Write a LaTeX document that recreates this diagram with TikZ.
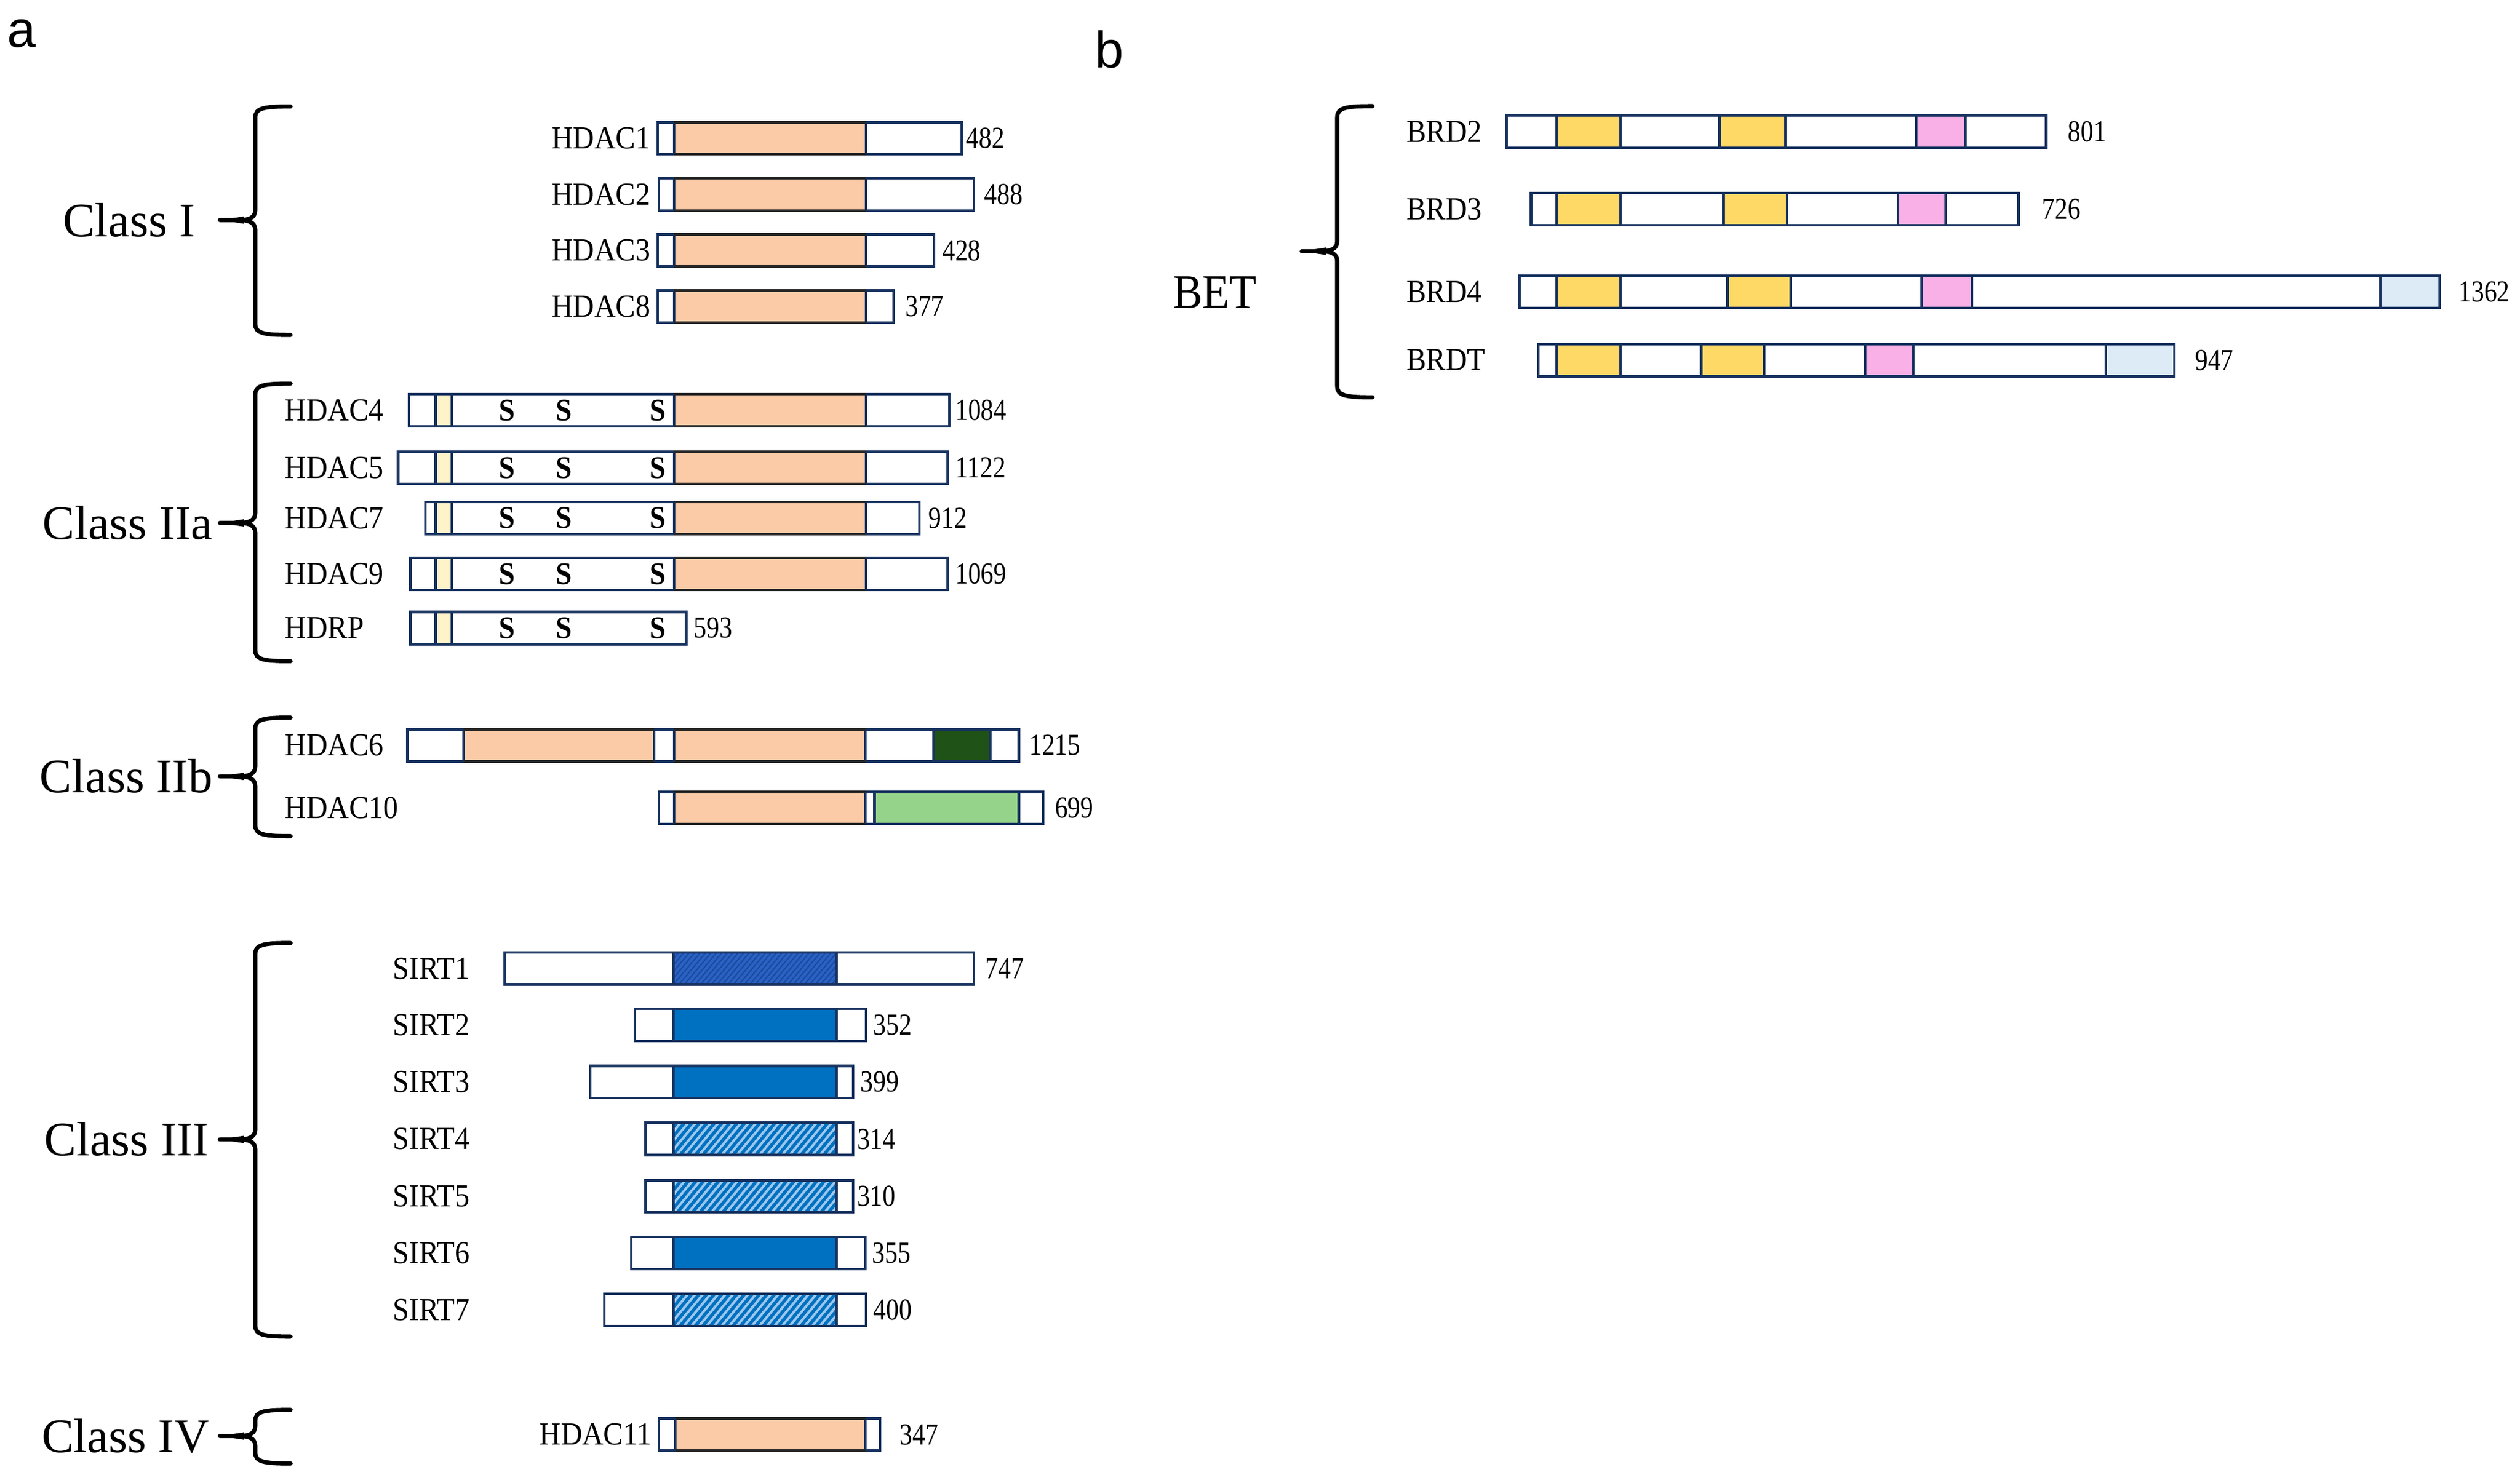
\documentclass[tikz,border=0pt]{standalone}
\usepackage{fontspec}
\setmainfont{Liberation Serif}
\newfontfamily\lblfont[FakeStretch=0.92]{Liberation Serif}
\newfontfamily\numfont[FakeStretch=0.84]{Liberation Serif}
\newfontfamily\panelfont{Liberation Sans}
\usetikzlibrary{patterns.meta}
\definecolor{navy}{HTML}{17325F}
\definecolor{orng}{HTML}{FBCBA7}
\definecolor{odark}{HTML}{262626}
\definecolor{pyel}{HTML}{FFF3C9}
\definecolor{dgreen}{HTML}{1E5217}
\definecolor{lgreen}{HTML}{96D38A}
\definecolor{byel}{HTML}{FFD966}
\definecolor{bpink}{HTML}{F9B0E6}
\definecolor{lblue}{HTML}{DDEBF7}
\definecolor{sblue}{HTML}{0070C0}
\definecolor{hlight}{HTML}{9DC8EE}
\definecolor{sonebase}{HTML}{2A62C4}
\definecolor{sonedark}{HTML}{1B4A9E}
\tikzset{
  outl/.style={draw=navy, line width=0.8pt},
  lbl/.style={font=\lblfont\fontsize{10}{12}\selectfont, inner sep=0pt},
  num/.style={font=\numfont\fontsize{9.5}{11}\selectfont, inner sep=0pt, anchor=west},
  cls/.style={font=\fontsize{15}{18}\selectfont, inner sep=0pt, anchor=east},
  brc/.style={line width=1.3pt, line cap=round, line join=round},
  sss/.style={font=\lblfont\bfseries\fontsize{9.8}{11}\selectfont, inner sep=0pt},
  solidb/.style={fill=sblue},
  hatcha/.style={preaction={fill=sblue}, pattern={Lines[angle=50,distance=1.8pt,line width=0.75pt]}, pattern color=hlight},
  hatchb/.style={preaction={fill=sonebase}, pattern={Lines[angle=50,distance=1.3pt,line width=0.4pt]}, pattern color=sonedark},
}
\newcommand\protbox[3]{\draw[outl,fill=white] (#2,{#1-10}) rectangle (#3,{#1+10});}
\newcommand\protseg[4]{\draw[outl,#4] (#2,{#1-10}) rectangle (#3,{#1+10});}
\newcommand\orseg[3]{\fill[orng] (#2,{#1-10}) rectangle (#3,{#1+10});
  \draw[outl] (#2,{#1-10}) -- (#2,{#1+10}) (#3,{#1-10}) -- (#3,{#1+10});
  \draw[line width=0.8pt, draw=odark] (#2,{#1-10}) -- (#3,{#1-10}) (#2,{#1+10}) -- (#3,{#1+10});}
\newcommand\bracemark[4]{%
  \draw[brc] ({#1+22},#2) .. controls ({#1+5},{#2}) and ({#1},{#2+1}) .. ({#1},{#2+7})
    -- ({#1},{#3-6}) .. controls ({#1},{#3-1.5}) and ({#1-4},{#3}) .. ({#1-10},{#3})
    -- ({#1-22},{#3}) -- ({#1-10},{#3})
    .. controls ({#1-4},{#3}) and ({#1},{#3+1.5}) .. ({#1},{#3+6})
    -- ({#1},{#4-7}) .. controls ({#1},{#4-1}) and ({#1+5},{#4}) .. ({#1+22},{#4});
  \fill ({#1-22},{#3}) -- ({#1-7},{#3-2.3}) -- ({#1-7},{#3+2.3}) -- cycle;}
\newcommand\sss[1]{%
  \node[sss] at (315.4,#1) {S}; \node[sss] at (351,#1) {S}; \node[sss] at (409.5,#1) {S};}
\begin{document}
\begin{tikzpicture}[x=0.5pt,y=-0.5pt]
\useasboundingbox (0,0) rectangle (1568,918.1);
% panel labels
\node[font=\panelfont\fontsize{16}{19}\selectfont, inner sep=0pt, anchor=base west] (pa) at (4.2,29.5) {a};
\node[font=\panelfont\fontsize{16}{19}\selectfont, inner sep=0pt, anchor=base west] (pb) at (681,42) {b};
% ---------------- Class I
\bracemark{158.8}{66.3}{137}{208.5}
\node[cls] (c1) at (122,137) {Class I};
\foreach \cy/\xa/\xb/\nx/\nm/\nam in {86.1/409.2/598.6/600.8/482/HDAC1, 121/410/606/612/488/HDAC2, 155.9/409.2/581.3/586/428/HDAC3, 190.9/409.2/556/563/377/HDAC8}{
  \protbox{\cy}{\xa}{\xb}
  \orseg{\cy}{419.5}{538.8}
  \node[lbl, anchor=east] (l\nam) at (405,\cy) {\nam};
  \node[num] (n\nam) at (\nx,\cy) {\nm};
}
% ---------------- Class IIa
\bracemark{158.8}{238.8}{325.5}{411.6}
\node[cls] (c2a) at (132.7,325.5) {Class IIa};
\foreach \cy/\xa/\xb/\nx/\nm/\nam in {255.4/254.4/590.6/594/1084/HDAC4, 291.2/247.7/589.7/594/1122/HDAC5, 322.5/264.6/572/577.3/912/HDAC7, 357.3/255.3/589.7/594/1069/HDAC9}{
  \protbox{\cy}{\xa}{\xb}
  \protseg{\cy}{271}{281}{fill=pyel}
  \orseg{\cy}{419.5}{538.8}
  \sss{\cy}
  \node[lbl, anchor=west] (l\nam) at (177,\cy) {\nam};
  \node[num] (n\nam) at (\nx,\cy) {\nm};
}
\protbox{391}{255.3}{427}
\protseg{391}{271}{281}{fill=pyel}
\sss{391}
\node[lbl, anchor=west] (lHDRP) at (177,391) {HDRP};
\node[num] (nHDRP) at (431.3,391) {593};
% ---------------- Class IIb
\bracemark{158.8}{446.7}{483.3}{520.5}
\node[cls] (c2b) at (132.7,483.3) {Class IIb};
\protbox{464}{253.5}{634}
\orseg{464}{288.4}{407}
\orseg{464}{419.4}{538.4}
\protseg{464}{580.9}{616.3}{fill=dgreen}
\node[lbl, anchor=west] (lHDAC6) at (177,464) {HDAC6};
\node[num] (nHDAC6) at (640,464) {1215};
\protbox{503}{410}{649}
\orseg{503}{419.4}{538.4}
\protseg{503}{544.2}{634}{fill=lgreen}
\node[lbl, anchor=west] (lHDAC10) at (177,503) {HDAC10};
\node[num] (nHDAC10) at (656,503) {699};
% ---------------- Class III
\bracemark{158.8}{587}{709.3}{832}
\node[cls] (c3) at (130.5,709.3) {Class III};
\foreach \cy/\xa/\xb/\nx/\nm/\nam/\sty in {602.8/314/606/612.7/747/SIRT1/hatchb, 638/395/538.9/543/352/SIRT2/solidb, 673.5/367.2/530.9/535/399/SIRT3/solidb, 709/401.7/530.9/533/314/SIRT4/hatcha, 744.7/401.7/530.9/533/310/SIRT5/hatcha, 780/392.8/538.4/542.4/355/SIRT6/solidb, 815.4/376/538.9/543/400/SIRT7/hatcha}{
  \protbox{\cy}{\xa}{\xb}
  \protseg{\cy}{419}{520.7}{\sty}
  \node[lbl, anchor=west] (l\nam) at (244,\cy) {\nam};
  \node[num] (n\nam) at (\nx,\cy) {\nm};
}
% ---------------- Class IV
\bracemark{158.8}{877.6}{893.9}{911}
\node[cls] (c4) at (130.5,893.9) {Class IV};
\protbox{893}{410}{547.7}
\orseg{893}{420.3}{538.4}
\node[lbl, anchor=east] (lHDAC11) at (406,893) {HDAC11};
\node[num] (nHDAC11) at (559.6,893) {347};
% ---------------- BET
\bracemark{832}{66.1}{156.4}{247.3}
\node[font=\lblfont\fontsize{15}{18}\selectfont, inner sep=0pt, anchor=west] (bet) at (729.5,182) {BET};
% BRD2
\protbox{82}{937.3}{1273.2}
\protseg{82}{968.6}{1008.4}{fill=byel}
\protseg{82}{1069.9}{1110.9}{fill=byel}
\protseg{82}{1192.3}{1223}{fill=bpink}
\node[lbl, anchor=west] (lBRD2) at (874.7,82) {BRD2};
\node[num] (nBRD2) at (1286.3,82) {801};
% BRD3
\protbox{130.2}{952.6}{1256}
\protseg{130.2}{968.6}{1008.4}{fill=byel}
\protseg{130.2}{1072.2}{1112}{fill=byel}
\protseg{130.2}{1181}{1210.5}{fill=bpink}
\node[lbl, anchor=west] (lBRD3) at (874.7,130.2) {BRD3};
\node[num] (nBRD3) at (1270.3,130.2) {726};
% BRD4
\protbox{181.6}{945.3}{1518}
\protseg{181.6}{968.6}{1008.4}{fill=byel}
\protseg{181.6}{1075}{1114.3}{fill=byel}
\protseg{181.6}{1195.7}{1227}{fill=bpink}
\protseg{181.6}{1481}{1518}{fill=lblue}
\node[lbl, anchor=west] (lBRD4) at (874.7,181.6) {BRD4};
\node[num] (nBRD4) at (1529.4,181.6) {1362};
% BRDT
\protbox{224.2}{957.2}{1352.9}
\protseg{224.2}{968.6}{1008.4}{fill=byel}
\protseg{224.2}{1058.5}{1097.8}{fill=byel}
\protseg{224.2}{1160.5}{1190.6}{fill=bpink}
\protseg{224.2}{1310.2}{1352.9}{fill=lblue}
\node[lbl, anchor=west] (lBRDT) at (874.7,224.2) {BRDT};
\node[num] (nBRDT) at (1365.4,224.2) {947};
\end{tikzpicture}
\end{document}
